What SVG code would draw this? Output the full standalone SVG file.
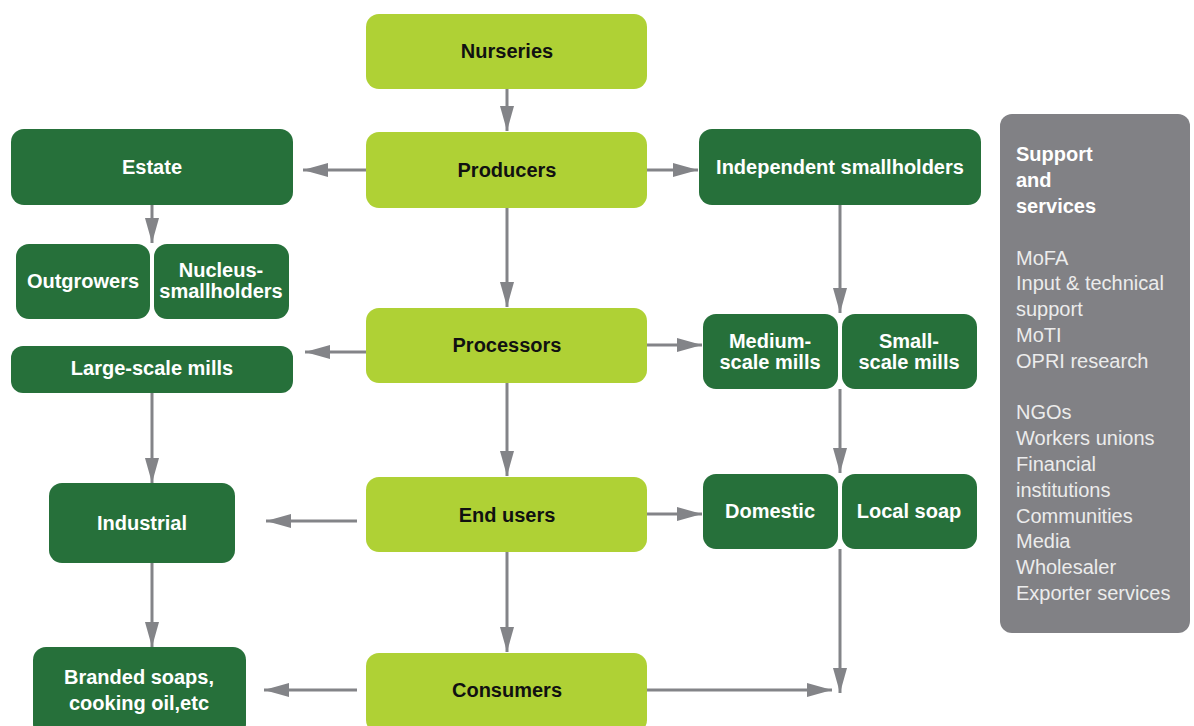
<svg xmlns="http://www.w3.org/2000/svg" width="1194" height="726" viewBox="0 0 1194 726">
<defs>
<marker id="ah" markerUnits="userSpaceOnUse" markerWidth="25" markerHeight="14" refX="25" refY="7" orient="auto">
<path d="M0,0 L25,7 L0,14 Z" fill="#838488"/>
</marker>
<style>
.lime{fill:#AFD135}
.dark{fill:#26703A}
.tb{font-family:"Liberation Sans",Arial,sans-serif;font-size:20px;font-weight:bold;fill:#111;text-anchor:middle}
.tw{font-family:"Liberation Sans",Arial,sans-serif;font-size:20px;font-weight:bold;fill:#fff;text-anchor:middle}
.conn line{stroke:#838488;stroke-width:3;marker-end:url(#ah)}
.sh{font-family:"Liberation Sans",Arial,sans-serif;font-size:20px;font-weight:bold;fill:#fff}
.si{font-family:"Liberation Sans",Arial,sans-serif;font-size:20px;fill:#ececec}
</style>
</defs>
<rect width="1194" height="726" fill="#fff"/>
<g class="conn" id="connectors">
<line x1="507" y1="89" x2="507" y2="131"/>
<line x1="366" y1="170" x2="303" y2="170"/>
<line x1="647" y1="170" x2="698" y2="170"/>
<line x1="152" y1="205" x2="152" y2="243"/>
<line x1="507" y1="208" x2="507" y2="307"/>
<line x1="840" y1="205" x2="840" y2="313"/>
<line x1="366" y1="352" x2="305" y2="352"/>
<line x1="647" y1="345" x2="702" y2="345"/>
<line x1="507" y1="383" x2="507" y2="476"/>
<line x1="152" y1="393" x2="152" y2="483"/>
<line x1="840" y1="389" x2="840" y2="473"/>
<line x1="357" y1="521" x2="266" y2="521"/>
<line x1="647" y1="514" x2="702" y2="514"/>
<line x1="507" y1="552" x2="507" y2="652"/>
<line x1="152" y1="563" x2="152" y2="647"/>
<line x1="357" y1="690" x2="264" y2="690"/>
<line x1="647" y1="690" x2="832" y2="690"/>
<line x1="840" y1="549" x2="840" y2="693"/>
</g>
<g id="nurseries"><rect class="lime" x="366" y="14" width="281" height="75" rx="13"/><text class="tb" x="507" y="58">Nurseries</text></g>
<g id="producers"><rect class="lime" x="366" y="132" width="281" height="76" rx="13"/><text class="tb" x="507" y="177">Producers</text></g>
<g id="processors"><rect class="lime" x="366" y="308" width="281" height="75" rx="13"/><text class="tb" x="507" y="352">Processors</text></g>
<g id="endusers"><rect class="lime" x="366" y="477" width="281" height="75" rx="13"/><text class="tb" x="507" y="522">End users</text></g>
<g id="consumers"><rect class="lime" x="366" y="653" width="281" height="80" rx="13"/><text class="tb" x="507" y="697">Consumers</text></g>
<g id="estate"><rect class="dark" x="11" y="129" width="282" height="76" rx="13"/><text class="tw" x="152" y="174">Estate</text></g>
<g id="independent"><rect class="dark" x="699" y="129" width="282" height="76" rx="13"/><text class="tw" x="840" y="174">Independent smallholders</text></g>
<g id="outgrowers"><rect class="dark" x="16" y="244" width="134" height="75" rx="13"/><text class="tw" x="83" y="288">Outgrowers</text></g>
<g id="nucleus"><rect class="dark" x="154" y="244" width="135" height="75" rx="13"/><text class="tw" x="221" y="277">Nucleus-</text><text class="tw" x="221" y="298">smallholders</text></g>
<g id="largemills"><rect class="dark" x="11" y="346" width="282" height="47" rx="12"/><text class="tw" x="152" y="375">Large-scale mills</text></g>
<g id="mediummills"><rect class="dark" x="703" y="314" width="135" height="75" rx="13"/><text class="tw" x="770" y="348">Medium-</text><text class="tw" x="770" y="369">scale mills</text></g>
<g id="smallmills"><rect class="dark" x="842" y="314" width="135" height="75" rx="13"/><text class="tw" x="909" y="348">Small-</text><text class="tw" x="909" y="369">scale mills</text></g>
<g id="industrial"><rect class="dark" x="49" y="483" width="186" height="80" rx="13"/><text class="tw" x="142" y="530">Industrial</text></g>
<g id="domestic"><rect class="dark" x="703" y="474" width="135" height="75" rx="13"/><text class="tw" x="770" y="518">Domestic</text></g>
<g id="localsoap"><rect class="dark" x="842" y="474" width="135" height="75" rx="13"/><text class="tw" x="909" y="518">Local soap</text></g>
<g id="branded"><rect class="dark" x="33" y="647" width="213" height="90" rx="13"/><text class="tw" x="139" y="684">Branded soaps,</text><text class="tw" x="139" y="710">cooking oil,etc</text></g>
<g id="support">
<rect x="1000" y="114" width="190" height="519" rx="12" fill="#818185"/>
<text class="sh" x="1016" y="161">Support</text>
<text class="sh" x="1016" y="187">and</text>
<text class="sh" x="1016" y="213">services</text>
<text class="si" x="1016" y="265">MoFA</text>
<text class="si" x="1016" y="290">Input &amp; technical</text>
<text class="si" x="1016" y="316">support</text>
<text class="si" x="1016" y="342">MoTI</text>
<text class="si" x="1016" y="368">OPRI research</text>
<text class="si" x="1016" y="419">NGOs</text>
<text class="si" x="1016" y="445">Workers unions</text>
<text class="si" x="1016" y="471">Financial</text>
<text class="si" x="1016" y="497">institutions</text>
<text class="si" x="1016" y="523">Communities</text>
<text class="si" x="1016" y="548">Media</text>
<text class="si" x="1016" y="574">Wholesaler</text>
<text class="si" x="1016" y="600">Exporter services</text>
</g>
</svg>
